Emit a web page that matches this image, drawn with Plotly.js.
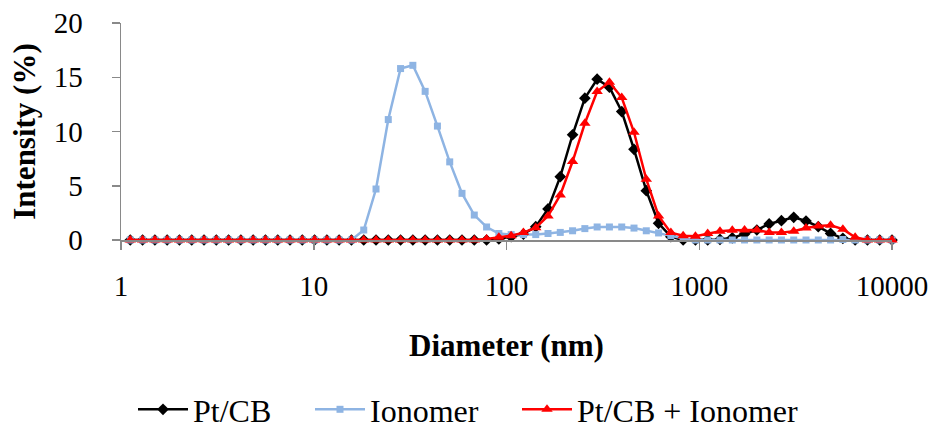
<!DOCTYPE html>
<html>
<head>
<meta charset="utf-8">
<script src="https://cdn.plot.ly/plotly-3.0.1.min.js"></script>
<style>html,body{margin:0;padding:0;background:#fff;}#chart{width:935px;height:437px;}</style>
</head>
<body>
<div id="chart"></div>
<script>
// Diameter bins (nm)
const diameter = [1.117, 1.294, 1.499, 1.736, 2.010, 2.328, 2.696, 3.122, 3.615, 4.187, 4.849, 5.615, 6.503, 7.531, 8.721,
  10.10, 11.70, 13.54, 15.69, 18.17, 21.04, 24.36, 28.21, 32.67, 37.84, 43.82, 50.75, 58.77, 68.06, 78.82, 91.28,
  105.7, 122.4, 141.8, 164.2, 190.1, 220.2, 255.0, 295.3, 342.0, 396.1, 458.7, 531.2, 615.1, 712.4, 825.0, 955.4,
  1106, 1281, 1484, 1718, 1990, 2305, 2669, 3091, 3580, 4145, 4801, 5560, 6439, 7456, 8635, 10000];

const ptcb = [0,0,0,0,0,0,0,0,0,0,0,0,0,0,0,
  0,0,0,0,0,0,0,0,0,0,0,0,0,0,0,0.1,
  0.3,0.55,1.23,2.86,5.84,9.7,13.07,14.82,14.08,11.84,8.36,4.55,1.54,0.31,0,0,
  0,0.05,0.2,0.55,0.92,1.48,1.78,2.09,1.75,1.23,0.61,0.15,0,0,0,0];

const ionomer = [0,0,0,0,0,0,0,0,0,0,0,0,0,0,0,
  0,0,0,0,0.92,4.7,11.1,15.8,16.1,13.7,10.5,7.2,4.3,2.3,1.2,0.6,
  0.5,0.5,0.5,0.6,0.7,0.85,1.05,1.2,1.2,1.2,1.1,0.85,0.65,0.4,0.15,0,
  0,0,0,0,0,0,0,0,0,0,0,0.05,0,0,0,0];

const ptcbIonomer = [0,0,0,0,0,0,0,0,0,0,0,0,0,0,0,
  0,0,0,0,0,0,0,0,0,0,0,0,0,0,0.1,0.25,
  0.4,0.68,1.14,2.21,4.15,7.23,10.76,13.68,14.55,13.13,9.93,5.6,2.21,0.68,0.4,0.35,
  0.6,0.8,0.9,0.92,0.92,0.7,0.68,0.8,1.1,1.3,1.35,1.0,0.25,0,0,0];

const seriesNames = ['Pt/CB', 'Ionomer', 'Pt/CB + Ionomer'];
const xTickVals = [1, 10, 100, 1000, 10000];
const xTickText = ['1', '10', '100', '1000', '10000'];
const yTickVals = [0, 5, 10, 15, 20];
const yTickText = ['0', '5', '10', '15', '20'];

const font = 'Liberation Serif';

const traces = [
  {x: diameter, y: ptcb, name: seriesNames[0], legend: 'legend', type: 'scatter', mode: 'lines+markers', cliponaxis: false,
   line: {color: '#000000', width: 2.5}, marker: {symbol: 'diamond', size: 9, color: '#000000'}},
  {x: diameter, y: ionomer, name: seriesNames[1], legend: 'legend2', type: 'scatter', mode: 'lines+markers', cliponaxis: false,
   line: {color: '#8EB4E3', width: 2.5}, marker: {symbol: 'square', size: 7, color: '#8EB4E3'}},
  {x: diameter, y: ptcbIonomer, name: seriesNames[2], legend: 'legend3', type: 'scatter', mode: 'lines+markers', cliponaxis: false,
   line: {color: '#FF0000', width: 2.5}, marker: {symbol: 'triangle-up', size: 10, color: '#FF0000'}}
];

function leg(px) {
  return {orientation: 'h', xref: 'container', yref: 'container', x: px / 935, xanchor: 'left', y: -0.012, yanchor: 'bottom',
          font: {family: font, size: 32, color: '#000000'}, itemwidth: 50, bgcolor: 'rgba(0,0,0,0)'};
}

const layout = {
  width: 935, height: 437,
  margin: {l: 121, r: 43, t: 23, b: 197},
  paper_bgcolor: '#ffffff', plot_bgcolor: '#ffffff',
  font: {family: font, color: '#000000', size: 28},
  showlegend: true,
  legend: leg(133), legend2: leg(310), legend3: leg(517),
  xaxis: {type: 'log', range: [0, 4], tickvals: xTickVals, ticktext: xTickText,
          showgrid: false, zeroline: false, showline: true, linecolor: '#898989', linewidth: 1.5,
          ticks: 'outside', ticklen: 8, tickwidth: 1.5, tickcolor: '#898989', ticklabelstandoff: 12,
          tickfont: {family: font, size: 29, color: '#000000'},
          title: {text: '<b>Diameter (nm)</b>', font: {family: font, size: 31, color: '#000000'}, standoff: 33}},
  yaxis: {range: [0, 20], tickvals: yTickVals, ticktext: yTickText,
          showgrid: false, zeroline: false, showline: true, linecolor: '#898989', linewidth: 1.5,
          ticks: 'outside', ticklen: 8, tickwidth: 1.5, tickcolor: '#898989', ticklabelstandoff: 23,
          tickfont: {family: font, size: 29, color: '#000000'},
          title: {text: '<b>Intensity (%)</b>', font: {family: font, size: 31, color: '#000000'}, standoff: 9}}
};

Plotly.newPlot('chart', traces, layout, {staticPlot: true, displayModeBar: false});
</script>
</body>
</html>
